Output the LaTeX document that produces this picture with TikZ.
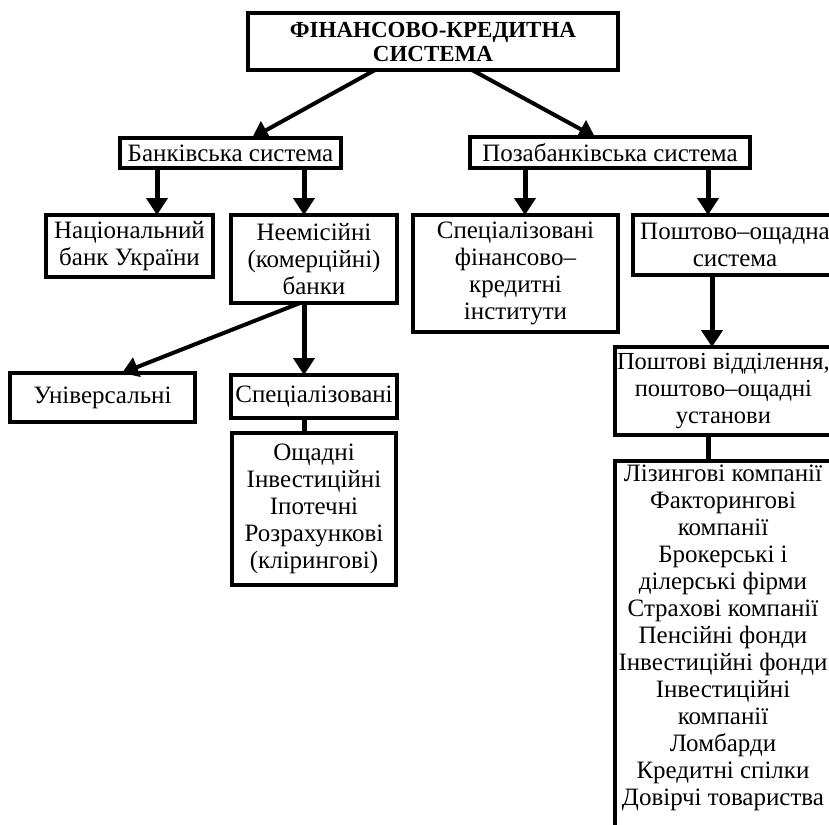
\documentclass[tikz,border=0pt]{standalone}
\usepackage{fontspec}
\setmainfont{Liberation Serif}
\usetikzlibrary{positioning, calc, arrows.meta}

\begin{document}
\begin{tikzpicture}[x=1pt, y=-1pt,
    box/.style={draw=black, line width=3.5pt, fill=white, align=center, inner sep=2pt, outer sep=0pt,
      anchor=north west, font=\fontsize{25}{27}\selectfont},
    arr/.style={line width=5pt, -{Triangle[length=17pt, width=21pt]}},
    slant/.style={line width=4pt, -{Triangle[length=16pt, width=20pt]}},
    link/.style={line width=5pt}]
  \useasboundingbox (0,0) rectangle (829,824);

  % top of the tree
  \node[box, font=\bfseries\fontsize{23}{24}\selectfont, minimum width=370pt, minimum height=57pt] (fks) at (248,13) {ФІНАНСОВО-КРЕДИТНА\\СИСТЕМА};

  \node[box, minimum width=221pt, minimum height=30pt] (bank) at (120,138) {Банківська система};
  \node[box, minimum width=280pt, minimum height=31pt] (nonbank) at (470,137) {Позабанківська система};

  % second row
  \node[box, minimum width=167pt, minimum height=62pt] (nbu) at (46,215) {Національний\\банк України};
  \node[box, minimum width=166pt, minimum height=88pt] (comm) at (231,215) {Неемісійні\\(комерційні)\\банки};
  \node[box, minimum width=205pt, minimum height=117pt] (spfk) at (413,215) {Спеціалізовані\\фінансово--\\кредитні\\інститути};
  \node[box, minimum width=204pt, minimum height=60pt] (post) at (633,215) {Поштово--ощадна\\система};

  % banks
  \node[box, minimum width=185pt, minimum height=49pt] (univ) at (10,373) {Універсальні};
  \node[box, minimum width=166pt, minimum height=43pt] (spec) at (231,375) {Спеціалізовані};
  \node[box, minimum width=164pt, minimum height=152pt] (speclist) at (232,433) {Ощадні\\Інвестиційні\\Іпотечні\\Розрахункові\\(клірингові)};

  % postal branch (runs past the right edge)
  \node[box, font=\fontsize{24.5}{27}\selectfont, minimum width=216pt, minimum height=88pt] (postoff) at (615,347) {Поштові відділення,\\поштово--ощадні\\установи};
  \node[box, minimum width=216pt, inner ysep=4pt, text depth=30pt] (plist) at (615,461) {Лізингові компанії\\Факторингові\\компанії\\Брокерські і\\ділерські фірми\\Страхові компанії\\Пенсійні фонди\\Інвестиційні фонди\\Інвестиційні\\компанії\\Ломбарди\\Кредитні спілки\\Довірчі товариства};

  % x positions of the straight connectors
  \coordinate (xnbu) at (157,0);
  \coordinate (xcomm) at (304,0);
  \coordinate (xspfk) at (525,0);
  \coordinate (xpost) at (708,0);
  \coordinate (xpoff) at (712,0);

  % connectors
  \draw[slant] ([xshift=-58pt]fks.south) -- ([xshift=21.5pt]bank.north);
  \draw[slant] ([xshift=39pt]fks.south) -- ([xshift=-15pt]nonbank.north);
  \draw[arr] (bank.south -| xnbu) -- (nbu.north -| xnbu);
  \draw[arr] (bank.south -| xcomm) -- (comm.north -| xcomm);
  \draw[arr] (nonbank.south -| xspfk) -- (spfk.north -| xspfk);
  \draw[arr] (nonbank.south -| xpost) -- (post.north -| xpost);
  \draw[slant] ([xshift=-14pt]comm.south) -- ([xshift=19.5pt]univ.north);
  \draw[arr] (comm.south -| xcomm) -- (spec.north -| xcomm);
  \draw[link] (spec.south -| xcomm) -- (speclist.north -| xcomm);
  \draw[arr] (post.south -| xpoff) -- (postoff.north -| xpoff);
  \draw[link] (postoff.south -| xpost) -- (plist.north -| xpost);
\end{tikzpicture}
\end{document}
